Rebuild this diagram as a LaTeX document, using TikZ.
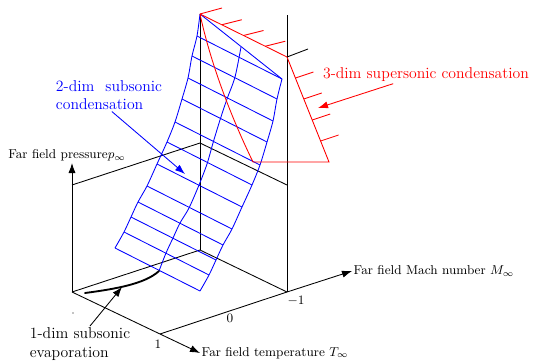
\documentclass[tikz,border=0pt]{standalone}
\usepackage{amsmath,amssymb}
\usepackage{xcolor}
\definecolor{mblue}{RGB}{0,0,255}
\definecolor{sred}{RGB}{255,0,0}
\usepackage{tikz}
\usetikzlibrary{arrows.meta,calc,positioning}

\begin{document}
\begin{tikzpicture}[
  x=0.7pt,y=-0.7pt,
  frame/.style={black,line width=0.6pt},
  axis/.style={black,line width=0.6pt,-{Latex[length=7pt,width=5pt]}},
  mesh/.style={mblue,line width=0.6pt},
  cond/.style={sred,line width=0.6pt},
  lbl/.style={font=\small,inner sep=1pt},
  note/.style={font=\fontsize{11}{13}\selectfont,align=left,inner sep=1pt},
  parrow/.style={-{Latex[length=7pt,width=5pt]}}
]
  \useasboundingbox (0,0) rectangle (533,363);

  % Box and axes
  \coordinate (o) at (72,292);
  \coordinate (b) at (200,250);
  \coordinate (f) at (160,334);
  \coordinate (r) at (287,292);
  \coordinate (ot) at (72,185);
  \coordinate (bt) at (200,143);
  \coordinate (rt) at (287,185);
  \coordinate (apex) at (200,14);
  \coordinate (rtop) at (287,15);
  \coordinate (ptip) at (72,163);
  \coordinate (ttip) at (200,353);
  \coordinate (mtip) at (352,271);

  \draw[frame] (o) -- (b) -- (r);
  \draw[frame] (b) -- (apex); \draw[frame] (r) -- (rtop);
  \draw[frame] (ot) -- (bt) -- (rt);
  \draw[axis] (o) -- (ptip);
  \draw[axis] (o) -- (f) -- (ttip);
  \draw[axis] (f) -- (r) -- (mtip);

  \node[lbl,above,xshift=-3.5pt] (lp) at (ptip) {Far field pressure$p_\infty$};
  \node[lbl,right] (lt) at (ttip) {Far field temperature $T_\infty$};
  \node[lbl,right] (lm) at (mtip) {Far field Mach number $M_\infty$};
  \node[lbl] (n1) at (158,344) {1};
  \node[lbl] (n0) at (230,318) {0};
  \node[lbl] (nm1) at (296,301) {$-1$};
  \fill (73,313) circle (0.6);

  % Subsonic surface
  \coordinate (l1) at (197,36);  \coordinate (l2) at (192,56);
  \coordinate (l3) at (188,78);  \coordinate (l4) at (182,99);
  \coordinate (l5) at (175,122); \coordinate (l6) at (167,142);
  \coordinate (l7) at (157,164); \coordinate (l8) at (147,186);
  \coordinate (l9) at (138,202); \coordinate (l10) at (131,217);
  \coordinate (l11) at (124,232); \coordinate (l12) at (115,248);
  \coordinate (r1) at ($(l1)+(85,43)$);   \coordinate (r2) at ($(l2)+(85,43)$);
  \coordinate (r3) at ($(l3)+(85,43)$);   \coordinate (r4) at ($(l4)+(85,43)$);
  \coordinate (r5) at ($(l5)+(85,43)$);   \coordinate (r6) at ($(l6)+(85,43)$);
  \coordinate (r7) at ($(l7)+(85,43)$);   \coordinate (r8) at ($(l8)+(85,43)$);
  \coordinate (r9) at ($(l9)+(85,43)$);   \coordinate (r10) at ($(l10)+(85,43)$);
  \coordinate (r11) at ($(l11)+(85,43)$); \coordinate (r12) at ($(l12)+(85,43)$);

  \draw[mesh] plot[smooth] coordinates {(apex) (l1) (l2) (l3) (l4) (l5) (l6) (l7) (l8) (l9) (l10) (l11) (l12)};
  \draw[mesh] plot[smooth] coordinates {(r1) (r2) (r3) (r4) (r5) (r6) (r7) (r8) (r9) (r10) (r11) (r12)};
  \draw[mesh] plot[smooth] coordinates {(241,47) (235,77) (227,99) (220,120) (213,143) (207,164)
    (199,185) (189,208) (180,223) (173,238) (166,253) (159,271)};
  \draw[mesh] (apex) -- (r1);
  \draw[mesh] (l1) -- (r1);   \draw[mesh] (l2) -- (r2);   \draw[mesh] (l3) -- (r3);
  \draw[mesh] (l4) -- (r4);   \draw[mesh] (l5) -- (r5);   \draw[mesh] (l6) -- (r6);
  \draw[mesh] (l7) -- (r7);   \draw[mesh] (l8) -- (r8);   \draw[mesh] (l9) -- (r9);
  \draw[mesh] (l10) -- (r10); \draw[mesh] (l11) -- (r11); \draw[mesh] (l12) -- (r12);

  % Supersonic surface
  \coordinate (s1) at (287,57);
  \coordinate (s2) at (329,162);
  \coordinate (s3) at (253,162);
  \draw[cond] (apex) -- (s1) -- (s2) -- (s3) .. controls (235,125) and (212,70) .. (apex);
  \draw[cond] (apex) -- ++(22,-6);
  \draw[cond] ($(apex)!0.25!(s1)$) -- ++(20,-5);
  \draw[cond] ($(apex)!0.5!(s1)$) -- ++(20,-5);
  \draw[cond] ($(apex)!0.75!(s1)$) -- ++(20,-5);
  \draw[frame] (s1) -- ++(21,-8);
  \draw[cond] ($(s1)!0.2!(s2)$) -- ++(18,-6);
  \draw[cond] ($(s1)!0.4!(s2)$) -- ++(18,-6);
  \draw[cond] ($(s1)!0.6!(s2)$) -- ++(18,-6);
  \draw[cond] ($(s1)!0.8!(s2)$) -- ++(18,-6);

  % Evaporation curve
  \coordinate (ev) at (85,293);
  \draw[frame,line width=1.3pt,line cap=round] (ev) .. controls (115,289) and (145,284) .. (159,271);

  % Notes
  \coordinate (ssub) at (185,174);
  \coordinate (ssup) at (318,108);
  \coordinate (sevap) at (122,287);
  \node[note,text=mblue] (lsub) at (109,95) {2-dim\hspace{0.7em}subsonic\\condensation};
  \node[note,text=sred] (lsup) at (426,75) {3-dim supersonic condensation};
  \node[note] (levap) at (80,344) {1-dim subsonic\\evaporation};
  \draw[mesh,parrow] ([xshift=2pt]lsub.south) -- (ssub);
  \draw[cond,parrow] ([xshift=-23pt]lsup.south) -- (ssup);
  \draw[frame,parrow] ([xshift=7pt]levap.north) -- (sevap);
\end{tikzpicture}
\end{document}
